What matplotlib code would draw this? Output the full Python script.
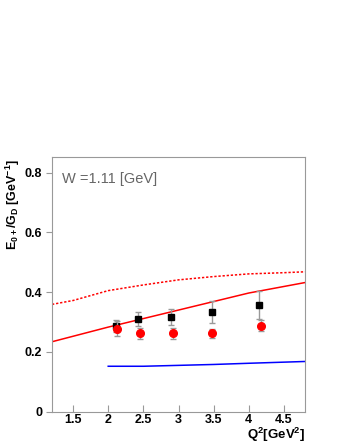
import matplotlib.pyplot as plt

plt.rcParams["font.family"] = ["Liberation Sans", "DejaVu Sans"]
plt.rcParams["mathtext.fontset"] = "custom"
plt.rcParams["mathtext.rm"] = "Liberation Sans"
plt.rcParams["mathtext.bf"] = "Liberation Sans:bold"

# data
q2_sq = [2.11, 2.43, 2.90, 3.47, 4.15]
e0_sq = [0.287, 0.310, 0.318, 0.333, 0.357]
err_sq = [0.020, 0.022, 0.027, 0.036, 0.046]

q2_ci = [2.12, 2.45, 2.92, 3.48, 4.17]
e0_ci = [0.278, 0.262, 0.262, 0.262, 0.288]
err_ci = [0.025, 0.018, 0.018, 0.015, 0.018]

q2_solid = [1.2, 2.0, 3.0, 4.0, 4.8]
e0_solid = [0.234, 0.283, 0.340, 0.397, 0.432]

q2_dot = [1.2, 1.5, 2.0, 2.5, 3.0, 3.5, 4.0, 4.5, 4.8]
e0_dot = [0.359, 0.372, 0.405, 0.424, 0.441, 0.452, 0.461, 0.465, 0.468]

q2_blue = [2.0, 2.5, 3.0, 3.5, 4.0, 4.8]
e0_blue = [0.152, 0.152, 0.155, 0.158, 0.162, 0.168]

xticks = [1.5, 2, 2.5, 3, 3.5, 4, 4.5]
yticks = [0, 0.2, 0.4, 0.6, 0.8]

fig = plt.figure(figsize=(3.43, 4.44), dpi=100)
ax = fig.add_axes([52 / 343, 1 - 411.7 / 444, 253 / 343, 254.7 / 444])

ax.plot(q2_dot, e0_dot, color="red", lw=1.1, ls=(0, (1.5, 1.2)))
ax.plot(q2_solid, e0_solid, color="red", lw=1.1)
ax.plot(q2_blue, e0_blue, color="blue", lw=1.1)

ax.errorbar(q2_sq, e0_sq, yerr=err_sq, fmt="s", color="black", ms=5,
            ecolor="#999999", elinewidth=1, capsize=2.5, capthick=1, zorder=3)
ax.errorbar(q2_ci, e0_ci, yerr=err_ci, fmt="o", color="red", ms=5.5,
            ecolor="#999999", elinewidth=1, capsize=2.5, capthick=1, zorder=4)

ax.set_xlim(1.2, 4.8)
ax.set_ylim(0, 0.852)
ax.set_xticks(xticks)
ax.set_xticklabels(["1.5", "2", "2.5", "3", "3.5", "4", "4.5"])
ax.set_yticks(yticks)
ax.set_yticklabels(["0", "0.2", "0.4", "0.6", "0.8"])

for s in ax.spines.values():
    s.set_color("#999999")
ax.tick_params(axis="x", direction="in", length=5, color="#999999",
               labelsize=9, pad=1.5)
ax.tick_params(axis="y", direction="out", length=4, color="#999999",
               labelsize=9, pad=3)
for lab in ax.get_xticklabels() + ax.get_yticklabels():
    lab.set_fontweight("bold")

ax.text(0.04, 0.915, "W =1.11 [GeV]", transform=ax.transAxes,
        color="#666666", fontsize=10.5, va="center")

fig.text(13 / 343, 1 - 205 / 444,
         r"$\mathbf{E_{0+}/G_D}$ [GeV$^{\mathbf{-1}}$]",
         rotation=90, ha="center", va="center",
         fontsize=9, fontweight="bold")
fig.text(305 / 343, 1 - 439 / 444, r"Q$^{\mathbf{2}}$[GeV$^{\mathbf{2}}$]",
         ha="right", va="baseline", fontsize=9.5, fontweight="bold")

fig.savefig("out.png", dpi=100)
